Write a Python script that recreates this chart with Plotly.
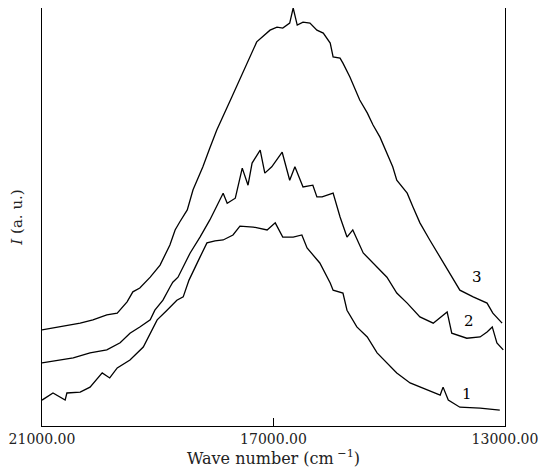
import plotly.graph_objects as go

# Wave numbers (cm^-1) and intensities (a.u.)
wn3 = [21000, 20690, 20340, 20120, 19880, 19700, 19530, 19430, 19310, 19130, 18960, 18790,
       18700, 18620, 18490, 18390, 18220, 18100, 17980, 17720, 17410, 17290, 17060, 16940,
       16840, 16720, 16660, 16590, 16490, 16370, 16250, 16140, 16020, 15970, 15850, 15800,
       15680, 15630, 15510, 15380, 15280, 15160, 15040, 14940, 14870, 14690, 14590, 14470,
       14300, 14120, 13950, 13780, 13550, 13310, 13210, 13050]
i3 = [23.0, 23.7, 24.6, 25.4, 26.6, 27.0, 29.7, 32.1, 33.0, 35.6, 38.5, 43.3,
      46.9, 48.8, 51.7, 56.5, 62.0, 66.5, 70.8, 78.7, 88.3, 91.9, 94.7, 95.4,
      95.2, 96.4, 100.0, 95.9, 96.6, 96.4, 94.7, 94.0, 91.6, 88.3, 88.0, 86.8,
      83.5, 82.0, 78.0, 74.9, 72.0, 69.1, 65.3, 62.0, 58.8, 55.7, 52.4, 48.6,
      44.5, 40.4, 36.6, 32.5, 30.9, 29.4, 27.0, 24.6]

wn2 = [21000, 20690, 20460, 20170, 19880, 19650, 19480, 19310, 19130, 19050, 18910, 18790,
       18740, 18650, 18560, 18440, 18270, 18100, 17870, 17800, 17660, 17540, 17440, 17370,
       17230, 17150, 17030, 16850, 16720, 16630, 16490, 16320, 16250, 16160, 15970, 15850,
       15730, 15630, 15450, 15280, 15040, 14870, 14690, 14470, 14240, 14000, 13920, 13660,
       13430, 13310, 13220, 13140, 13030]
i2 = [15.1, 15.8, 16.3, 17.5, 18.2, 19.9, 22.2, 23.7, 25.4, 27.7, 30.1, 33.2,
      34.4, 35.6, 38.0, 41.4, 45.2, 49.3, 55.7, 53.3, 54.5, 61.7, 57.6, 62.9,
      66.0, 60.5, 62.0, 65.5, 58.8, 62.0, 57.2, 57.6, 54.8, 54.8, 55.7, 50.0,
      45.2, 46.9, 41.4, 39.0, 35.6, 31.8, 29.4, 26.1, 24.6, 27.3, 22.2, 21.0,
      21.3, 22.5, 23.7, 19.9, 18.2]

wn1 = [21000, 20810, 20600, 20570, 20340, 20170, 19960, 19830, 19700, 19480, 19250, 19130,
       19010, 18840, 18670, 18560, 18460, 18270, 18150, 18010, 17870, 17700, 17580, 17350,
       17110, 16970, 16840, 16660, 16510, 16420, 16200, 16020, 15970, 15800, 15730, 15560,
       15380, 15210, 14870, 14640, 14350, 14120, 14070, 13980, 13780, 13430, 13090]
i1 = [6.2, 7.9, 6.2, 7.9, 8.1, 9.3, 12.7, 11.5, 13.9, 15.8, 18.9, 22.2,
      25.4, 27.7, 30.1, 30.9, 34.9, 40.4, 43.8, 44.3, 44.5, 45.7, 47.8, 47.6,
      46.9, 48.6, 45.2, 45.2, 45.7, 42.6, 39.0, 34.2, 32.5, 31.8, 27.7, 23.7,
      21.3, 17.5, 12.7, 10.3, 8.6, 7.4, 9.3, 6.2, 4.5, 4.3, 3.8]

curve_labels = ["1", "2", "3"]
label_wn = [13660, 13620, 13480]
label_i = [7.7, 25.1, 35.6]

tick_vals = [21000, 17000, 13000]
tick_text = ["21000.00", "17000.00", "13000.00"]

fig = go.Figure()
for wn, inten in [(wn1, i1), (wn2, i2), (wn3, i3)]:
    fig.add_trace(go.Scatter(x=wn, y=inten, mode="lines",
                             line=dict(color="black", width=1.3),
                             showlegend=False, hoverinfo="skip"))

for t, x, y in zip(curve_labels, label_wn, label_i):
    fig.add_annotation(x=x, y=y, text=t, showarrow=False,
                       font=dict(family="DejaVu Serif", size=15, color="black"))

# The page body keeps the browser's 8px default margin, so the figure is
# sized 8px smaller to fill the 546x476 window exactly.
fig.update_layout(
    width=538, height=468,
    margin=dict(l=34, r=41, t=0, b=50, autoexpand=False),
    paper_bgcolor="white", plot_bgcolor="white",
    font=dict(family="DejaVu Serif", color="black"),
)
fig.update_xaxes(
    range=[21000, 13000], showgrid=False, zeroline=False, automargin=False,
    showline=True, linecolor="black", linewidth=1, mirror=True,
    tickvals=tick_vals, ticktext=tick_text, ticks="inside", ticklen=8,
    tickcolor="black", tickfont=dict(family="DejaVu Serif", size=14, color="#222"),
    title=dict(text="Wave number (cm<sup> −1</sup>)", standoff=4,
               font=dict(family="DejaVu Serif", size=16, color="#222")),
)
fig.update_yaxes(
    range=[0, 100], showgrid=False, zeroline=False, automargin=False,
    showline=True, linecolor="black", linewidth=1, mirror=True,
    showticklabels=False, ticks="",
    title=dict(text="<i>I</i> (a. u.)", standoff=14,
               font=dict(family="DejaVu Serif", size=15, color="#222")),
)

fig.write_html("out.html")
